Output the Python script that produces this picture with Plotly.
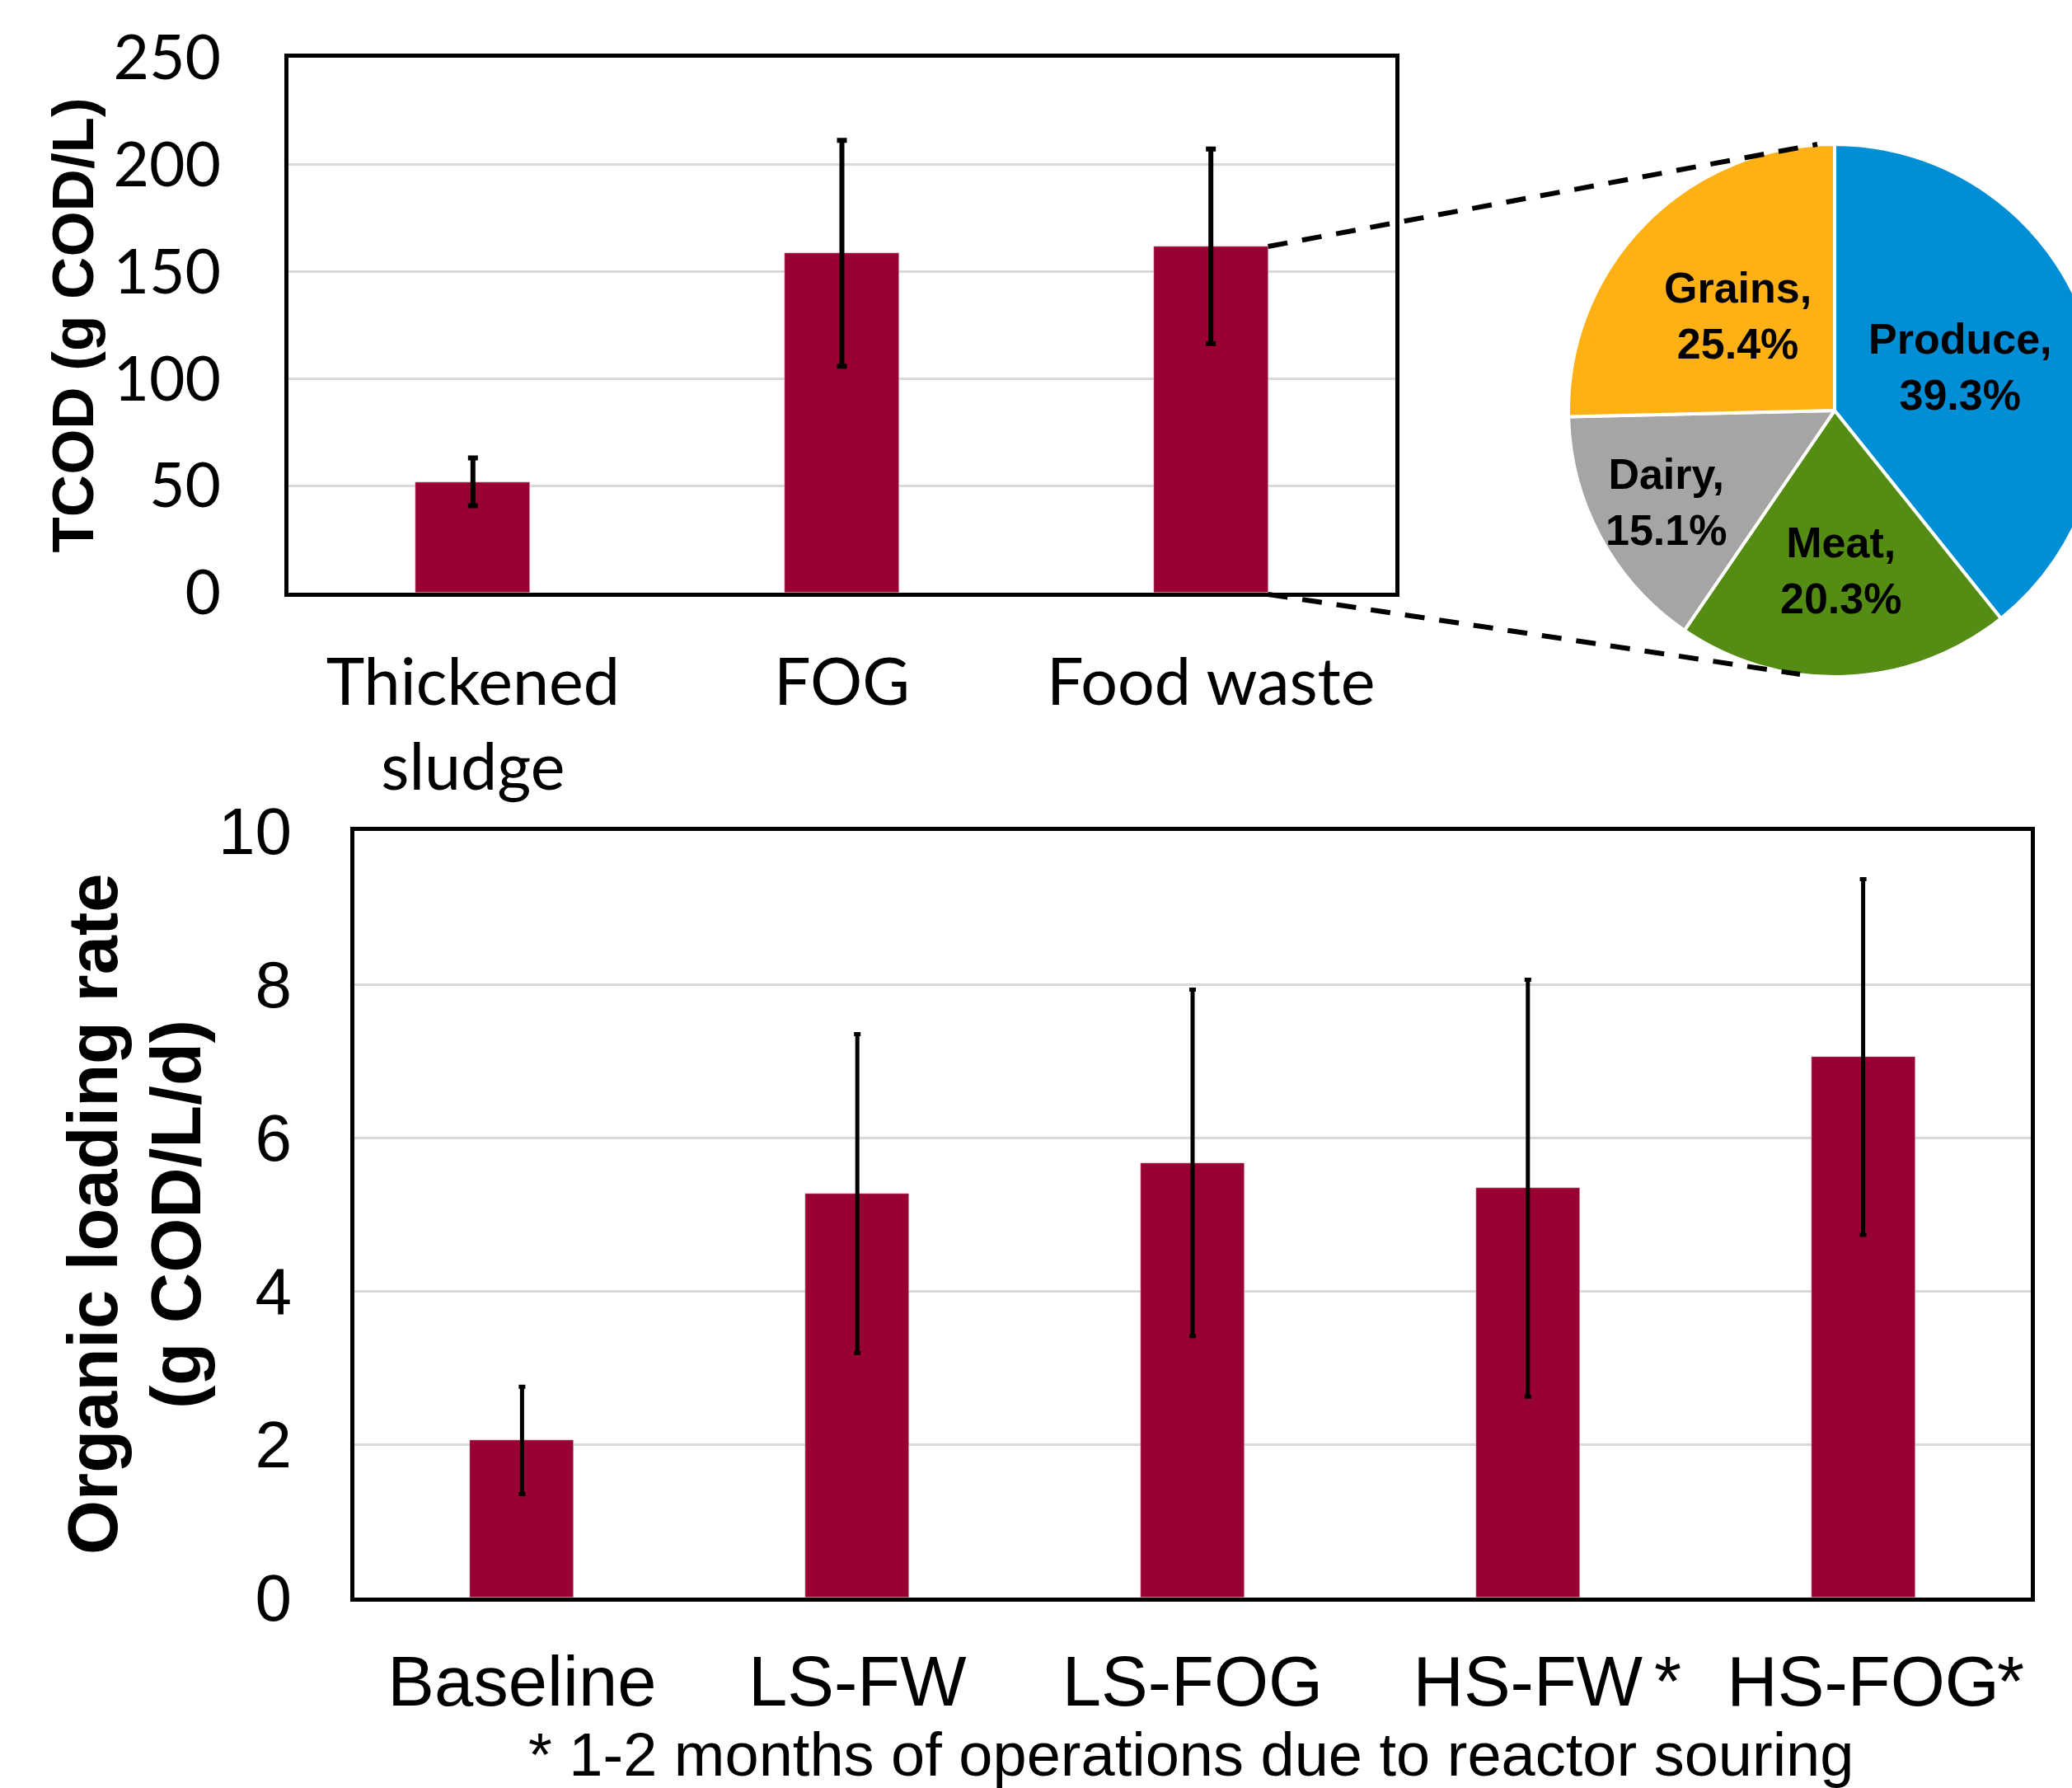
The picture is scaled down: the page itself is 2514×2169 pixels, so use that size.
import math
import plotly.graph_objects as go

# ---- data -------------------------------------------------------------
substrates = ["Thickened<br>sludge", "FOG", "Food waste"]
tcod_mean = [51.8, 158.6, 161.8]
tcod_err = [11.2, 52.8, 45.5]

phases = ["Baseline", "LS-FW", "LS-FOG", "HS-FW", "HS-FOG"]
olr_mean = [2.05, 5.27, 5.67, 5.34, 7.05]
olr_err = [0.70, 2.08, 2.26, 2.72, 2.32]
soured_phases = ["HS-FW", "HS-FOG"]      # flagged with an asterisk

fw_groups = ["Produce", "Meat", "Dairy", "Grains"]
fw_share = [39.3, 20.3, 15.1, 25.4]
fw_colors = ["#008FD6", "#558C14", "#A5A5A5", "#FDB115"]
label_radius = [0.50, 0.60, 0.72, 0.51]

footnote = "* 1-2 months of operations due to reactor souring"

# ---- canvas geometry (px) --------------------------------------------
W, H = 2560, 2169
BAR = "#990033"

def px_x(v):
    return v / W

def px_y(v):
    return 1 - v / H

top_box = (350, 1693, 70, 719)      # left, right, top, bottom
bot_box = (430, 2464, 1008, 1938)
pie_cx, pie_cy, pie_r = 2226, 498, 323

fig = go.Figure()

fig.add_trace(go.Bar(
    x=substrates, y=tcod_mean, width=0.31, marker_color=BAR,
    error_y=dict(type="data", array=tcod_err, color="black", thickness=6, width=6),
    xaxis="x", yaxis="y", showlegend=False,
))

fig.add_trace(go.Bar(
    x=phases, y=olr_mean, width=0.31, marker_color=BAR,
    error_y=dict(type="data", array=olr_err, color="black", thickness=5, width=4),
    xaxis="x2", yaxis="y2", showlegend=False,
))

fig.add_trace(go.Pie(
    labels=fw_groups, values=fw_share, sort=False, direction="clockwise",
    rotation=0, textinfo="none", hoverinfo="label+percent",
    marker=dict(colors=fw_colors, line=dict(color="white", width=4)),
    domain=dict(x=[px_x(pie_cx - pie_r), px_x(pie_cx + pie_r)],
                y=[px_y(pie_cy + pie_r), px_y(pie_cy - pie_r)]),
    showlegend=False,
))

frame = dict(showline=True, mirror=True, linecolor="black", linewidth=5,
             ticks="", zeroline=False, automargin=False)

fig.update_layout(
    width=W, height=H,
    margin=dict(l=0, r=0, t=0, b=0, autoexpand=False),
    paper_bgcolor="white", plot_bgcolor="white",
    bargap=0,
    xaxis=dict(domain=[px_x(top_box[0]), px_x(top_box[1])], anchor="y",
               tickfont=dict(family="Lato", size=79, color="black"),
               ticklabelstandoff=36, showgrid=False, **frame),
    yaxis=dict(domain=[px_y(top_box[3]), px_y(top_box[2])], anchor="x",
               range=[0, 250], tickvals=[0, 50, 100, 150, 200, 250],
               tickfont=dict(family="Lato", size=75, color="black"),
               ticklabelstandoff=62, showgrid=True, gridcolor="#D9D9D9",
               gridwidth=3, **frame),
    xaxis2=dict(domain=[px_x(bot_box[0]), px_x(bot_box[1])], anchor="y2",
                tickfont=dict(family="Liberation Sans, Arial", size=85, color="black"),
                ticklabelstandoff=24, showgrid=False, **frame),
    yaxis2=dict(domain=[px_y(bot_box[3]), px_y(bot_box[2])], anchor="x2",
                range=[0, 10], tickvals=[0, 2, 4, 6, 8, 10],
                tickfont=dict(family="Liberation Sans, Arial", size=80, color="black"),
                ticklabelstandoff=55, showgrid=True, gridcolor="#D9D9D9",
                gridwidth=3, **frame),
)

annotations = []
title_font = dict(family="Liberation Sans, Arial", color="black")

annotations.append(dict(
    text="<b>TCOD (g COD/L)</b>", textangle=-90, showarrow=False,
    x=px_x(88), y=px_y((top_box[2] + top_box[3]) / 2), xref="paper", yref="paper",
    xanchor="center", yanchor="middle", font=dict(size=71, **title_font)))
annotations.append(dict(
    text="<b>Organic loading rate</b>", textangle=-90, showarrow=False,
    x=px_x(112), y=px_y((bot_box[2] + bot_box[3]) / 2), xref="paper", yref="paper",
    xanchor="center", yanchor="middle", font=dict(size=85, **title_font)))
annotations.append(dict(
    text="<b>(g COD/L/d)</b>", textangle=-90, showarrow=False,
    x=px_x(213), y=px_y((bot_box[2] + bot_box[3]) / 2), xref="paper", yref="paper",
    xanchor="center", yanchor="middle", font=dict(size=85, **title_font)))

# asterisks marking the short (soured) operating phases
for name, shift in zip(soured_phases, [170, 179]):
    annotations.append(dict(
        text="*", showarrow=False, x=name, xref="x2", y=px_y(2039), yref="paper",
        xshift=shift, xanchor="center", yanchor="middle",
        font=dict(size=85, **title_font)))

annotations.append(dict(
    text=footnote, showarrow=False, x=px_x(1445), y=px_y(2128),
    xref="paper", yref="paper", xanchor="center", yanchor="middle",
    font=dict(size=74, **title_font)))

# slice labels placed along each slice's mid-angle (clockwise from 12 o'clock)
total = sum(fw_share)
start = 0.0
for name, share, frac in zip(fw_groups, fw_share, label_radius):
    sweep = 360.0 * share / total
    mid = math.radians(start + sweep / 2)
    lx = pie_cx + frac * pie_r * math.sin(mid)
    ly = pie_cy - frac * pie_r * math.cos(mid)
    annotations.append(dict(
        text=f"<b>{name},<br>{share:.1f}%</b>", showarrow=False,
        x=px_x(lx), y=px_y(ly), xref="paper", yref="paper",
        xanchor="center", yanchor="middle", align="center",
        font=dict(size=52, **title_font)))
    start += sweep

fig.update_layout(annotations=annotations)

# dashed connectors from the food-waste bar to the pie
n_cat = len(substrates)
fw_idx = substrates.index("Food waste")
bar_right = top_box[0] + (fw_idx + 0.5 + 0.31 / 2) / n_cat * (top_box[1] - top_box[0])
bar_top = top_box[3] - tcod_mean[fw_idx] / 250 * (top_box[3] - top_box[2])
dash_style = dict(color="black", width=6, dash="24px,18px")
fig.add_shape(type="line", xref="paper", yref="paper",
              x0=px_x(bar_right), y0=px_y(bar_top), x1=px_x(2205), y1=px_y(175),
              line=dash_style)
fig.add_shape(type="line", xref="paper", yref="paper",
              x0=px_x(bar_right), y0=px_y(top_box[3] + 2), x1=px_x(2184), y1=px_y(818),
              line=dash_style)

fig.write_html(
    "out.html",
    post_script="document.documentElement.style.overflow='hidden';"
                "document.body.style.overflow='hidden';document.body.style.margin='0';",
)
